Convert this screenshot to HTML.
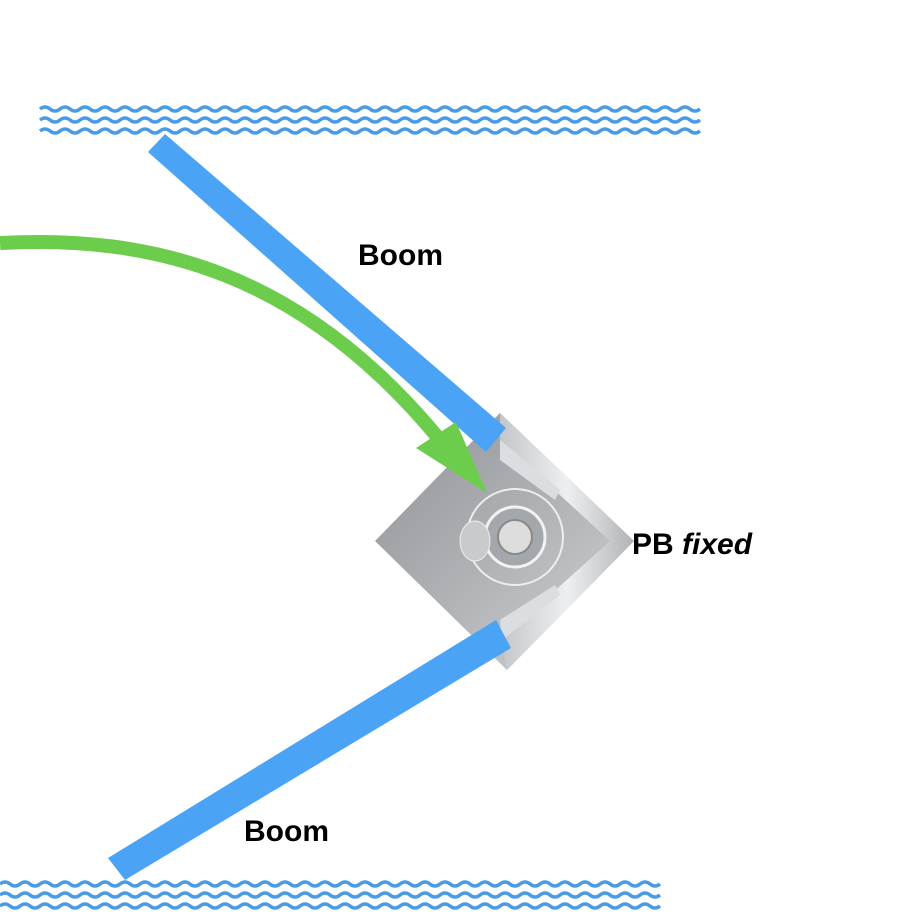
<!DOCTYPE html>
<html><head><style>
body{margin:0;background:#fff;}
svg{display:block;}
text{font-family:"Liberation Sans",sans-serif;font-weight:bold;font-size:30px;fill:#000;}
</style></head><body>
<svg width="924" height="924" viewBox="0 0 924 924">
<defs>
<linearGradient id="g" x1="0" y1="0" x2="1" y2="1">
<stop offset="0" stop-color="#8f9296"/><stop offset="1" stop-color="#d0d2d5"/>
</linearGradient>
<linearGradient id="g2" x1="0" y1="0" x2="1" y2="0">
<stop offset="0" stop-color="#c4c6c9"/><stop offset="0.5" stop-color="#eeeff0"/><stop offset="1" stop-color="#b0b3b7"/>
</linearGradient>
</defs>
<g id="waves" fill="none" stroke="#4a9be6" stroke-width="3.5"></g>
<!-- pb box -->
<polygon points="375,541 500,413 634,541 507,670" fill="url(#g)"/>
<polygon points="500,413 634,541 507,670 500,640 610,541 500,440" fill="url(#g2)"/>
<polygon points="500,440 560,490 555,500 500,460" fill="#dcdde0"/>
<polygon points="500,620 555,585 560,595 502,640" fill="#dcdde0"/>
<circle cx="515" cy="537" r="48" fill="none" stroke="#eee" stroke-width="2"/>
<circle cx="515" cy="537" r="30" fill="#a4a8ac" stroke="#f2f2f2" stroke-width="3"/>
<circle cx="515" cy="537" r="17" fill="#ddd" stroke="#888" stroke-width="2"/>
<ellipse cx="475" cy="541" rx="15" ry="20" fill="#c8cacc" stroke="#eee"/>
<!-- booms -->
<polygon points="148,152 165,134 506,428 486,452" fill="#4aa3f5"/>
<polygon points="108,858 125,880 511,648 496,620" fill="#4aa3f5"/>
<!-- green arrow -->
<path d="M0 243 C150 235 300 270 440 440" fill="none" stroke="#6ccc4c" stroke-width="14"/>
<polygon points="416,448 456,422 487,493" fill="#6ccc4c"/>
<text x="358" y="265">Boom</text>
<text x="244" y="841">Boom</text>
<text x="632" y="554">PB <tspan font-style="italic">fixed</tspan></text>
</svg>
<script>
var g=document.getElementById('waves'),s='';
function w(x0,x1,y){var d='M'+x0+' '+y;for(var x=x0;x<x1;x+=20){d+=' q5 -4 10 0 q5 4 10 0';}return '<path d="'+d+'"/>';}
[109,120,131].forEach(function(y){s+=w(40,700,y);});
[884,895,906].forEach(function(y){s+=w(0,660,y);});
g.innerHTML=s;
</script>
</body></html>
